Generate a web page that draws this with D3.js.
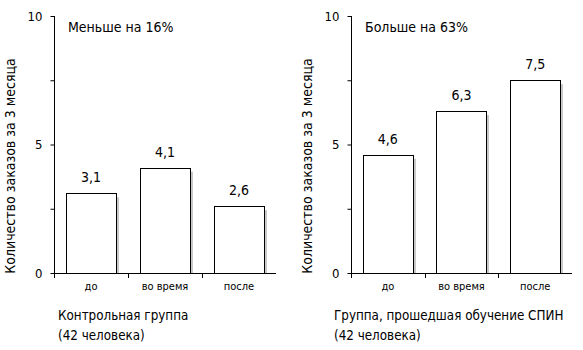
<!DOCTYPE html>
<html lang="ru">
  <head>
    <meta charset="UTF-8" />
    <title>Количество заказов</title>
    <script src="https://d3js.org/d3.v7.min.js"></script>
    <style>
      body { margin: 0; background: #fff; }
      text { font-family: "Liberation Sans Narrow", "Arial Narrow", "DejaVu Sans Condensed", sans-serif; fill: #000; }
    </style>
  </head>
  <body>
    <svg width="583" height="350" id="chart"></svg>

    <script>
      // Data
      const categories = ["до", "во время", "после"];
      const controlValues = [3.1, 4.1, 2.6];
      const spinValues = [4.6, 6.3, 7.5];
      const yTicks = [0, 2.5, 5, 7.5, 10];
      const yLabelTicks = [0, 5, 10];
      const yTitle = "Количество заказов за 3 месяца";
      const panels = [
        { values: controlValues, note: "Меньше на 16%", title: ["Контрольная группа", "(42 человека)"], left: 54, right: 276, titleX: 58 },
        { values: spinValues, note: "Больше на 63%", title: ["Группа, прошедшая обучение СПИН", "(42 человека)"], left: 351, right: 572, titleX: 334 }
      ];

      const svg = d3.select("#chart");
      const yTop = 16, yBottom = 273;
      const y = d3.scaleLinear().domain([0, 10]).range([yBottom, yTop]);
      const fmt = d3.format(".1f");

      panels.forEach((p) => {
        const g = svg.append("g");
        const x = d3.scaleBand().domain(categories).range([p.left, p.right]).padding(0);
        const bw = x.bandwidth() * 0.68;
        const off = (x.bandwidth() - bw) / 2;

        // y axis
        const yAxis = g.append("g")
          .attr("transform", "translate(" + (p.left + 0.5) + ",0)")
          .call(d3.axisLeft(y).tickValues(yTicks).tickSize(4).tickPadding(8)
            .tickFormat((d) => (yLabelTicks.includes(d) ? d : "")));
        yAxis.select(".domain").attr("d", "M0," + yTop + "V" + yBottom).attr("stroke", "#000");
        yAxis.selectAll("text").style("font-size", "13px").attr("font-family", null);

        // y title
        g.append("text")
          .attr("transform", "translate(" + (p.left - 39) + "," + 166 + ") rotate(-90)")
          .attr("text-anchor", "middle")
          .style("font-size", "14px")
          .text(yTitle);

        // bar shadows
        g.selectAll(".shadow")
          .data(p.values)
          .join("rect")
          .attr("x", (d, i) => Math.round(x(categories[i]) + off) + Math.round(bw) + 1)
          .attr("y", (d) => y(d) + 4)
          .attr("width", 2)
          .attr("height", (d) => yBottom - y(d) - 4)
          .attr("fill", "#c8c8c8");

        // bars
        g.selectAll(".bar")
          .data(p.values)
          .join("rect")
          .attr("x", (d, i) => Math.round(x(categories[i]) + off) + 0.5)
          .attr("y", (d) => Math.round(y(d)) + 0.5)
          .attr("width", Math.round(bw))
          .attr("height", (d) => yBottom - Math.round(y(d)))
          .attr("fill", "#fff")
          .attr("stroke", "#000");

        // value labels
        g.selectAll(".val")
          .data(p.values)
          .join("text")
          .attr("x", (d, i) => x(categories[i]) + x.bandwidth() / 2)
          .attr("y", (d) => y(d) - 11)
          .attr("text-anchor", "middle")
          .style("font-size", "14px")
          .text((d) => fmt(d).replace(".", ","));

        // x axis line and boundary ticks
        g.append("line")
          .attr("x1", p.left).attr("x2", p.right)
          .attr("y1", yBottom + 0.5).attr("y2", yBottom + 0.5)
          .attr("stroke", "#000");
        g.selectAll(".xt")
          .data(categories)
          .join("line")
          .attr("x1", (d) => Math.round(x(d)) + 0.5)
          .attr("x2", (d) => Math.round(x(d)) + 0.5)
          .attr("y1", yBottom).attr("y2", yBottom + 5)
          .attr("stroke", "#000");
        g.selectAll(".xl")
          .data(categories)
          .join("text")
          .attr("x", (d) => x(d) + x.bandwidth() / 2)
          .attr("y", yBottom + 17)
          .attr("text-anchor", "middle")
          .style("font-size", "11px")
          .text((d) => d);

        // note
        g.append("text")
          .attr("x", p.left + 14)
          .attr("y", 32)
          .style("font-size", "14px")
          .text(p.note);

        // group title
        g.append("text")
          .attr("y", 320)
          .style("font-size", "13.3px")
          .selectAll("tspan")
          .data(p.title)
          .join("tspan")
          .attr("x", p.titleX)
          .attr("dy", (d, i) => (i === 0 ? 0 : 20))
          .text((d) => d);
      });
    </script>
  </body>
</html>
